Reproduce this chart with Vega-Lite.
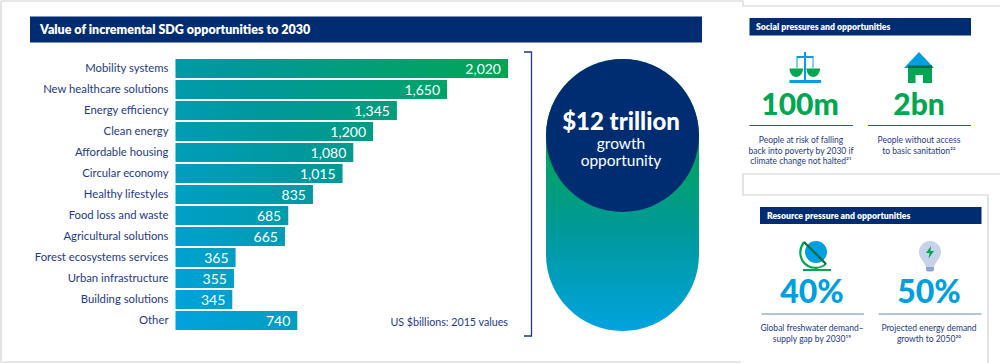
{"$schema":"https://vega.github.io/schema/vega-lite/v6.json","width":1000,"height":363,"autosize":{"type":"none"},"padding":0,"background":"white","config":{"view":{"stroke":null},"text":{"font":"Lato"}},"data":{"values":[{"note":"annotation"}]},"layer":[
{"mark":{"type":"point","shape":"M1 1H743V6H1000M1000 174H743V195H988V363M1 1V362H741","size":4,"filled":false,"opacity":1,"stroke":"#d2d2d2","strokeWidth":1.2},"encoding":{"x":{"value":0},"y":{"value":0}}},
{"mark":{"type":"rect","color":"#002d72"},"encoding":{"x":{"value":30},"x2":{"value":702},"y":{"value":16.5},"y2":{"value":42.5}}},
{"mark":{"type":"rect","color":"#002d72"},"encoding":{"x":{"value":749.5},"x2":{"value":971},"y":{"value":18},"y2":{"value":35.5}}},
{"mark":{"type":"rect","color":"#002d72"},"encoding":{"x":{"value":760},"x2":{"value":981.5},"y":{"value":207},"y2":{"value":224}}},
{"mark":{"type":"text","text":"Value of incremental SDG opportunities to 2030","align":"left","baseline":"alphabetic","fontWeight":800,"fontSize":12.5,"color":"white"},"encoding":{"x":{"value":40},"y":{"value":34}}},
{"mark":{"type":"text","text":"Social pressures and opportunities","align":"left","baseline":"alphabetic","fontWeight":800,"fontSize":8.7,"color":"white"},"encoding":{"x":{"value":756},"y":{"value":30}}},
{"mark":{"type":"text","text":"Resource pressure and opportunities","align":"left","baseline":"alphabetic","fontWeight":800,"fontSize":8.7,"color":"white"},"encoding":{"x":{"value":767},"y":{"value":219}}},
{"data":{"values":[
{"category":"Mobility systems","value":2020,"label":"2,020"},
{"category":"New healthcare solutions","value":1650,"label":"1,650"},
{"category":"Energy efficiency","value":1345,"label":"1,345"},
{"category":"Clean energy","value":1200,"label":"1,200"},
{"category":"Affordable housing","value":1080,"label":"1,080"},
{"category":"Circular economy","value":1015,"label":"1,015"},
{"category":"Healthy lifestyles","value":835,"label":"835"},
{"category":"Food loss and waste","value":685,"label":"685"},
{"category":"Agricultural solutions","value":665,"label":"665"},
{"category":"Forest ecosystems services","value":365,"label":"365"},
{"category":"Urban infrastructure","value":355,"label":"355"},
{"category":"Building solutions","value":345,"label":"345"},
{"category":"Other","value":740,"label":"740"}]},
"encoding":{"y":{"field":"category","type":"nominal","scale":{"domain":["Mobility systems","New healthcare solutions","Energy efficiency","Clean energy","Affordable housing","Circular economy","Healthy lifestyles","Food loss and waste","Agricultural solutions","Forest ecosystems services","Urban infrastructure","Building solutions","Other"],"range":[58,331],"paddingInner":0.09,"paddingOuter":0.045},"axis":{"title":null,"domain":false,"ticks":false,"offset":-168,"labelPadding":0,"labelFont":"Lato","labelFontSize":11.3,"labelColor":"#1d3a83","labelLimit":200}},"x":{"field":"value","type":"quantitative","scale":{"domain":[0,2020],"range":[175.5,508]},"axis":null}},
"layer":[
{"transform":[{"filter":"datum.category==='Mobility systems'"}],"mark":{"type":"bar","color":{"gradient":"linear","x1":0,"y1":0,"x2":1,"y2":0,"stops":[{"offset":0,"color":"#009aa8"},{"offset":0.166,"color":"#00989b"},{"offset":1,"color":"#00a653"}]}}},
{"transform":[{"filter":"datum.category==='New healthcare solutions'"}],"mark":{"type":"bar","color":{"gradient":"linear","x1":0,"y1":0,"x2":1,"y2":0,"stops":[{"offset":0,"color":"#009bad"},{"offset":0.27,"color":"#00989b"},{"offset":1,"color":"#00a268"}]}}},
{"transform":[{"filter":"datum.category==='Energy efficiency'"}],"mark":{"type":"bar","color":{"gradient":"linear","x1":0,"y1":0,"x2":1,"y2":0,"stops":[{"offset":0,"color":"#009cb1"},{"offset":0.417,"color":"#00989b"},{"offset":1,"color":"#009e7a"}]}}},
{"transform":[{"filter":"datum.category==='Clean energy'"}],"mark":{"type":"bar","color":{"gradient":"linear","x1":0,"y1":0,"x2":1,"y2":0,"stops":[{"offset":0,"color":"#009cb6"},{"offset":0.56,"color":"#00989b"},{"offset":1,"color":"#009c84"}]}}},
{"transform":[{"filter":"datum.category==='Affordable housing'"}],"mark":{"type":"bar","color":{"gradient":"linear","x1":0,"y1":0,"x2":1,"y2":0,"stops":[{"offset":0,"color":"#009dba"},{"offset":0.726,"color":"#00989b"},{"offset":1,"color":"#009a8e"}]}}},
{"transform":[{"filter":"datum.category==='Circular economy'"}],"mark":{"type":"bar","color":{"gradient":"linear","x1":0,"y1":0,"x2":1,"y2":0,"stops":[{"offset":0,"color":"#009ebf"},{"offset":0.884,"color":"#00989b"},{"offset":1,"color":"#009996"}]}}},
{"transform":[{"filter":"datum.category==='Healthy lifestyles'"}],"mark":{"type":"bar","color":{"gradient":"linear","x1":0,"y1":0,"x2":1,"y2":0,"stops":[{"offset":0,"color":"#009ec3"},{"offset":1,"color":"#0099a2"}]}}},
{"transform":[{"filter":"datum.category==='Food loss and waste'"}],"mark":{"type":"bar","color":{"gradient":"linear","x1":0,"y1":0,"x2":1,"y2":0,"stops":[{"offset":0,"color":"#009fc7"},{"offset":1,"color":"#009bac"}]}}},
{"transform":[{"filter":"datum.category==='Agricultural solutions'"}],"mark":{"type":"bar","color":{"gradient":"linear","x1":0,"y1":0,"x2":1,"y2":0,"stops":[{"offset":0,"color":"#00a0cc"},{"offset":1,"color":"#009cb2"}]}}},
{"transform":[{"filter":"datum.category==='Forest ecosystems services'"}],"mark":{"type":"bar","color":{"gradient":"linear","x1":0,"y1":0,"x2":1,"y2":0,"stops":[{"offset":0,"color":"#00a1d0"},{"offset":1,"color":"#009ec2"}]}}},
{"transform":[{"filter":"datum.category==='Urban infrastructure'"}],"mark":{"type":"bar","color":{"gradient":"linear","x1":0,"y1":0,"x2":1,"y2":0,"stops":[{"offset":0,"color":"#00a1d5"},{"offset":1,"color":"#009fc7"}]}}},
{"transform":[{"filter":"datum.category==='Building solutions'"}],"mark":{"type":"bar","color":{"gradient":"linear","x1":0,"y1":0,"x2":1,"y2":0,"stops":[{"offset":0,"color":"#00a2d9"},{"offset":1,"color":"#00a0cc"}]}}},
{"transform":[{"filter":"datum.category==='Other'"}],"mark":{"type":"bar","color":{"gradient":"linear","x1":0,"y1":0,"x2":1,"y2":0,"stops":[{"offset":0,"color":"#00a3de"},{"offset":1,"color":"#009ec0"}]}}},
{"mark":{"type":"text","align":"right","baseline":"middle","dx":-7,"dy":1,"color":"white","fontSize":14,"font":"Lato"},"encoding":{"text":{"field":"label","type":"nominal"}}}
]},
{"mark":{"type":"text","text":"US $billions: 2015 values","align":"right","baseline":"alphabetic","fontSize":10.7,"color":"#1d3a83"},"encoding":{"x":{"value":508},"y":{"value":326}}},
{"mark":{"type":"point","shape":"M524 52H531.5V336H524","size":4,"filled":false,"opacity":1,"stroke":"#1d3a83","strokeWidth":1.3},"encoding":{"x":{"value":0},"y":{"value":0}}},
{"mark":{"type":"rect","cornerRadius":76.5,"color":{"gradient":"linear","x1":0,"y1":0.27,"x2":0,"y2":1,"stops":[{"offset":0,"color":"#00a651"},{"offset":0.5,"color":"#00999b"},{"offset":1,"color":"#00a3e0"}]}},"encoding":{"x":{"value":546},"x2":{"value":699},"y":{"value":59},"y2":{"value":331}}},
{"mark":{"type":"point","shape":"circle","size":23409,"filled":true,"opacity":1,"color":"#002d72"},"encoding":{"x":{"value":622.5},"y":{"value":135.5}}},
{"mark":{"type":"text","text":"$12 trillion","align":"center","baseline":"alphabetic","fontSize":24,"fontWeight":900,"color":"white"},"encoding":{"x":{"value":621},"y":{"value":130}}},
{"mark":{"type":"text","text":["growth","opportunity"],"lineHeight":17,"align":"center","baseline":"alphabetic","fontSize":15.5,"color":"white"},"encoding":{"x":{"value":621},"y":{"value":149}}},
{"mark":{"type":"point","shape":"M804 52H806V56H813.5V68H812.5V58H806V80H821V83H789.5V80H804V58H797.5V68H796.5V56H804Z","size":4,"filled":true,"opacity":1,"color":"#009fdf"},"encoding":{"x":{"value":0},"y":{"value":0}}},
{"mark":{"type":"point","shape":"M789.5 68.5H803C803 73 800 77 796.2 77C792.5 77 789.5 73 789.5 68.5ZM806.5 68.5H820C820 73 817 77 813.2 77C809.5 77 806.5 73 806.5 68.5Z","size":4,"filled":true,"opacity":1,"color":"#00a651"},"encoding":{"x":{"value":0},"y":{"value":0}}},
{"mark":{"type":"point","shape":"M908 65H932V83H923V75H915.5V83H908Z","size":4,"filled":true,"opacity":1,"color":"#00a651"},"encoding":{"x":{"value":0},"y":{"value":0}}},
{"mark":{"type":"point","shape":"M919 52L934 68H904Z","size":4,"filled":true,"opacity":1,"color":"#009fdf"},"encoding":{"x":{"value":0},"y":{"value":0}}},
{"mark":{"type":"point","shape":"M908 65.5H932V68H908Z","size":4,"filled":true,"opacity":1,"color":"#0b6b45"},"encoding":{"x":{"value":0},"y":{"value":0}}},
{"mark":{"type":"text","text":"100m","align":"center","baseline":"alphabetic","fontSize":30,"fontWeight":900,"color":"#00a651"},"encoding":{"x":{"value":800},"y":{"value":115}}},
{"mark":{"type":"text","text":"2bn","align":"center","baseline":"alphabetic","fontSize":30,"fontWeight":900,"color":"#00a651"},"encoding":{"x":{"value":919},"y":{"value":115}}},
{"mark":{"type":"rule","color":"#3a5594","strokeWidth":1.2},"encoding":{"x":{"value":749.5},"x2":{"value":853},"y":{"value":125.5}}},
{"mark":{"type":"rule","color":"#3a5594","strokeWidth":1.2},"encoding":{"x":{"value":868},"x2":{"value":971},"y":{"value":125.5}}},
{"mark":{"type":"text","text":"People at risk of falling","align":"center","baseline":"alphabetic","fontSize":8.5,"color":"#1d3a83"},"encoding":{"x":{"value":801},"y":{"value":143}}},
{"mark":{"type":"text","text":"back into poverty by 2030 if","align":"center","baseline":"alphabetic","fontSize":8.5,"color":"#1d3a83"},"encoding":{"x":{"value":801},"y":{"value":154}}},
{"mark":{"type":"text","text":"climate change not halted²¹","align":"center","baseline":"alphabetic","fontSize":8.5,"color":"#1d3a83"},"encoding":{"x":{"value":801},"y":{"value":164}}},
{"mark":{"type":"text","text":"People without access","align":"center","baseline":"alphabetic","fontSize":8.5,"color":"#1d3a83"},"encoding":{"x":{"value":919},"y":{"value":143}}},
{"mark":{"type":"text","text":"to basic sanitation²²","align":"center","baseline":"alphabetic","fontSize":8.5,"color":"#1d3a83"},"encoding":{"x":{"value":919},"y":{"value":154}}},
{"mark":{"type":"point","shape":"circle","size":484,"filled":true,"opacity":1,"color":"#009fdf"},"encoding":{"x":{"value":816},"y":{"value":252}}},
{"mark":{"type":"point","shape":"M804 242C797 252 801 262 808 266C814 269 821 268 826 264M816 267V270M803 270H831","size":4,"filled":false,"opacity":1,"stroke":"#00a651","strokeWidth":2.2},"encoding":{"x":{"value":0},"y":{"value":0}}},
{"mark":{"type":"point","shape":"M804 242L826 264","size":4,"filled":false,"opacity":1,"stroke":"#0b6b45","strokeWidth":2.2},"encoding":{"x":{"value":0},"y":{"value":0}}},
{"mark":{"type":"point","shape":"M930 241C937 241 941 247 941 252C941 258 936 261 934 267H926C924 261 919 258 919 252C919 247 923 241 930 241Z","size":4,"filled":true,"opacity":1,"color":"#c6d3ea"},"encoding":{"x":{"value":0},"y":{"value":0}}},
{"mark":{"type":"point","shape":"M926 267H934V270C934 272 926 272 926 270Z","size":4,"filled":true,"opacity":1,"color":"#8fa3cf"},"encoding":{"x":{"value":0},"y":{"value":0}}},
{"mark":{"type":"point","shape":"M931 246L926 253H929.5L928.5 258.5L934 251H930.5Z","size":4,"filled":true,"opacity":1,"color":"#00a651"},"encoding":{"x":{"value":0},"y":{"value":0}}},
{"mark":{"type":"text","text":"40%","align":"center","baseline":"alphabetic","fontSize":32,"fontWeight":900,"color":"#009fdf"},"encoding":{"x":{"value":812},"y":{"value":303}}},
{"mark":{"type":"text","text":"50%","align":"center","baseline":"alphabetic","fontSize":32,"fontWeight":900,"color":"#009fdf"},"encoding":{"x":{"value":929},"y":{"value":303}}},
{"mark":{"type":"rule","color":"#6f85b8","strokeWidth":1.2},"encoding":{"x":{"value":761.5},"x2":{"value":864},"y":{"value":314}}},
{"mark":{"type":"rule","color":"#6f85b8","strokeWidth":1.2},"encoding":{"x":{"value":878.5},"x2":{"value":981.5},"y":{"value":314}}},
{"mark":{"type":"text","text":"Global freshwater demand–","align":"center","baseline":"alphabetic","fontSize":8.5,"color":"#1d3a83"},"encoding":{"x":{"value":812},"y":{"value":331}}},
{"mark":{"type":"text","text":"supply gap by 2030¹⁹","align":"center","baseline":"alphabetic","fontSize":8.5,"color":"#1d3a83"},"encoding":{"x":{"value":812},"y":{"value":342}}},
{"mark":{"type":"text","text":"Projected energy demand","align":"center","baseline":"alphabetic","fontSize":8.5,"color":"#1d3a83"},"encoding":{"x":{"value":929},"y":{"value":331}}},
{"mark":{"type":"text","text":"growth to 2050²⁰","align":"center","baseline":"alphabetic","fontSize":8.5,"color":"#1d3a83"},"encoding":{"x":{"value":929},"y":{"value":342}}}
]}
